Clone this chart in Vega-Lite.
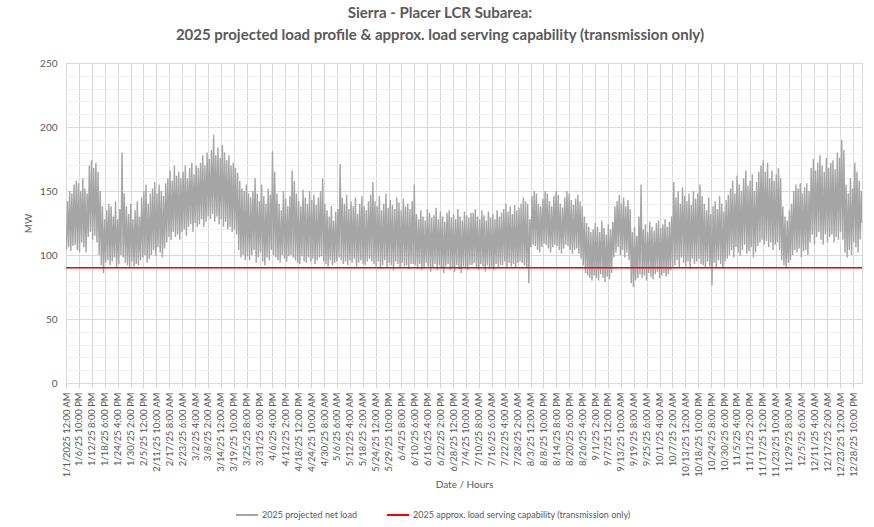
{
"$schema": "https://vega.github.io/schema/vega-lite/v6.json",
"width": 796, "height": 320,
"autosize": "none",
"padding": {"left": 66, "top": 63, "right": 12, "bottom": 144},
"background": "white",
"config": {"view": {"stroke": "#d9d9d9"}, "font": "Lato"},
"title": {"text": ["Sierra - Placer LCR Subarea:", "2025 projected load profile & approx. load serving capability (transmission only)"], "font": "Lato", "fontSize": 15, "fontWeight": "bold", "color": "#595959", "lineHeight": 22, "anchor": "middle", "frame": "group", "dx": -24, "offset": 15},
"resolve": {"axis": {"y": "independent"}},
"layer": [
{"data": {"values": [
{"t":0.2,"v":104},{"t":0.7,"v":142},{"t":1.2,"v":106},{"t":1.7,"v":150},{"t":2.2,"v":103},{"t":2.7,"v":148},{"t":3.2,"v":107},{"t":3.7,"v":155},{"t":4.2,"v":108},{"t":4.7,"v":158},{"t":5.2,"v":104},{"t":5.7,"v":156},{"t":6.2,"v":102},{"t":6.7,"v":150},
{"t":7.2,"v":110},{"t":7.7,"v":160},{"t":8.2,"v":106},{"t":8.7,"v":152},{"t":9.2,"v":102},{"t":9.7,"v":148},
{"t":10.2,"v":114},{"t":10.7,"v":170},{"t":11.2,"v":118},{"t":11.7,"v":174},{"t":12.2,"v":112},{"t":12.7,"v":168},{"t":13.2,"v":115},{"t":13.7,"v":172},{"t":14.2,"v":110},{"t":14.7,"v":165},
{"t":15.2,"v":100},{"t":15.7,"v":150},{"t":16.2,"v":92},{"t":16.7,"v":138},{"t":17.2,"v":86},{"t":17.7,"v":128},
{"t":18.2,"v":94},{"t":18.7,"v":135},{"t":19.2,"v":96},{"t":19.7,"v":140},{"t":20.2,"v":92},{"t":20.7,"v":138},{"t":21.2,"v":95},{"t":21.7,"v":130},{"t":22.2,"v":98},{"t":22.7,"v":142},{"t":23.2,"v":90},{"t":23.7,"v":128},{"t":24.2,"v":93},{"t":24.7,"v":136},
{"t":25.2,"v":100},{"t":25.7,"v":180},
{"t":26.2,"v":98},{"t":26.7,"v":148},{"t":27.2,"v":94},{"t":27.7,"v":138},{"t":28.2,"v":92},{"t":28.7,"v":132},{"t":29.2,"v":90},{"t":29.7,"v":140},{"t":30.2,"v":95},{"t":30.7,"v":128},{"t":31.2,"v":91},{"t":31.7,"v":135},{"t":32.2,"v":93},{"t":32.7,"v":142},{"t":33.2,"v":92},{"t":33.7,"v":130},
{"t":34.2,"v":96},{"t":34.7,"v":145},{"t":35.2,"v":98},{"t":35.7,"v":150},{"t":36.2,"v":100},{"t":36.7,"v":155},{"t":37.2,"v":94},{"t":37.7,"v":140},{"t":38.2,"v":97},{"t":38.7,"v":148},
{"t":39.2,"v":100},{"t":39.7,"v":152},{"t":40.2,"v":104},{"t":40.7,"v":157},{"t":41.2,"v":99},{"t":41.7,"v":148},{"t":42.2,"v":106},{"t":42.7,"v":155},{"t":43.2,"v":102},{"t":43.7,"v":150},{"t":44.2,"v":98},{"t":44.7,"v":146},{"t":45.2,"v":105},{"t":45.7,"v":156},
{"t":46.2,"v":110},{"t":46.7,"v":160},{"t":47.2,"v":114},{"t":47.7,"v":166},{"t":48.2,"v":112},{"t":48.7,"v":158},{"t":49.2,"v":118},{"t":49.7,"v":170},{"t":50.2,"v":114},{"t":50.7,"v":162},{"t":51.2,"v":116},{"t":51.7,"v":165},{"t":52.2,"v":112},{"t":52.7,"v":160},
{"t":53.2,"v":118},{"t":53.7,"v":165},{"t":54.2,"v":120},{"t":54.7,"v":170},{"t":55.2,"v":115},{"t":55.7,"v":160},{"t":56.2,"v":122},{"t":56.7,"v":168},{"t":57.2,"v":124},{"t":57.7,"v":172},{"t":58.2,"v":118},{"t":58.7,"v":163},{"t":59.2,"v":125},{"t":59.7,"v":170},{"t":60.2,"v":122},{"t":60.7,"v":168},
{"t":61.2,"v":124},{"t":61.7,"v":172},{"t":62.2,"v":128},{"t":62.7,"v":178},{"t":63.2,"v":122},{"t":63.7,"v":170},{"t":64.2,"v":126},{"t":64.7,"v":180},{"t":65.2,"v":130},{"t":65.7,"v":175},{"t":66.2,"v":128},{"t":66.7,"v":182},{"t":67.2,"v":132},{"t":67.7,"v":194},
{"t":68.2,"v":126},{"t":68.7,"v":178},{"t":69.2,"v":130},{"t":69.7,"v":184},{"t":70.2,"v":124},{"t":70.7,"v":176},{"t":71.2,"v":128},{"t":71.7,"v":186},{"t":72.2,"v":122},{"t":72.7,"v":180},{"t":73.2,"v":126},{"t":73.7,"v":174},{"t":74.2,"v":120},{"t":74.7,"v":178},{"t":75.2,"v":122},{"t":75.7,"v":170},{"t":76.2,"v":118},{"t":76.7,"v":172},{"t":77.2,"v":120},{"t":77.7,"v":168},{"t":78.2,"v":116},{"t":78.7,"v":164},
{"t":79.2,"v":104},{"t":79.7,"v":158},{"t":80.2,"v":98},{"t":80.7,"v":152},{"t":81.2,"v":100},{"t":81.7,"v":150},{"t":82.2,"v":96},{"t":82.7,"v":155},{"t":83.2,"v":99},{"t":83.7,"v":148},
{"t":84.2,"v":96},{"t":84.7,"v":145},{"t":85.2,"v":100},{"t":85.7,"v":150},{"t":86.2,"v":104},{"t":86.7,"v":160},{"t":87.2,"v":94},{"t":87.7,"v":148},{"t":88.2,"v":98},{"t":88.7,"v":142},{"t":89.2,"v":102},{"t":89.7,"v":155},{"t":90.2,"v":95},{"t":90.7,"v":146},{"t":91.2,"v":92},{"t":91.7,"v":140},{"t":92.2,"v":98},{"t":92.7,"v":152},{"t":93.2,"v":96},{"t":93.7,"v":147},
{"t":94.2,"v":104},{"t":94.7,"v":181},{"t":95.2,"v":100},{"t":95.7,"v":165},
{"t":96.2,"v":98},{"t":96.7,"v":148},{"t":97.2,"v":96},{"t":97.7,"v":140},{"t":98.2,"v":94},{"t":98.7,"v":135},{"t":99.2,"v":100},{"t":99.7,"v":150},{"t":100.2,"v":97},{"t":100.7,"v":144},{"t":101.2,"v":95},{"t":101.7,"v":138},{"t":102.2,"v":99},{"t":102.7,"v":146},
{"t":103.2,"v":100},{"t":103.7,"v":166},{"t":104.2,"v":98},{"t":104.7,"v":158},
{"t":105.2,"v":96},{"t":105.7,"v":148},{"t":106.2,"v":94},{"t":106.7,"v":142},{"t":107.2,"v":93},{"t":107.7,"v":138},{"t":108.2,"v":99},{"t":108.7,"v":151},{"t":109.2,"v":95},{"t":109.7,"v":145},{"t":110.2,"v":94},{"t":110.7,"v":140},{"t":111.2,"v":98},{"t":111.7,"v":150},{"t":112.2,"v":95},{"t":112.7,"v":143},{"t":113.2,"v":97},{"t":113.7,"v":147},{"t":114.2,"v":93},{"t":114.7,"v":139},{"t":115.2,"v":96},{"t":115.7,"v":145},{"t":116.2,"v":98},{"t":116.7,"v":150},
{"t":117.2,"v":99},{"t":117.7,"v":160},
{"t":118.2,"v":95},{"t":118.7,"v":140},{"t":119.2,"v":93},{"t":119.7,"v":135},{"t":120.2,"v":91},{"t":120.7,"v":130},{"t":121.2,"v":96},{"t":121.7,"v":138},{"t":122.2,"v":92},{"t":122.7,"v":127},{"t":123.2,"v":94},{"t":123.7,"v":134},{"t":124.2,"v":95},{"t":124.7,"v":136},
{"t":125.2,"v":98},{"t":125.7,"v":171},
{"t":126.2,"v":96},{"t":126.7,"v":145},{"t":127.2,"v":93},{"t":127.7,"v":140},{"t":128.2,"v":95},{"t":128.7,"v":147},{"t":129.2,"v":92},{"t":129.7,"v":136},{"t":130.2,"v":96},{"t":130.7,"v":142},{"t":131.2,"v":94},{"t":131.7,"v":138},{"t":132.2,"v":97},{"t":132.7,"v":145},{"t":133.2,"v":91},{"t":133.7,"v":132},{"t":134.2,"v":94},{"t":134.7,"v":140},{"t":135.2,"v":96},{"t":135.7,"v":146},{"t":136.2,"v":93},{"t":136.7,"v":138},{"t":137.2,"v":92},{"t":137.7,"v":135},{"t":138.2,"v":95},{"t":138.7,"v":142},{"t":139.2,"v":97},{"t":139.7,"v":147},
{"t":140.2,"v":95},{"t":140.7,"v":157},
{"t":141.2,"v":93},{"t":141.7,"v":142},{"t":142.2,"v":91},{"t":142.7,"v":138},{"t":143.2,"v":95},{"t":143.7,"v":146},{"t":144.2,"v":89},{"t":144.7,"v":135},{"t":145.2,"v":92},{"t":145.7,"v":140},{"t":146.2,"v":96},{"t":146.7,"v":148},{"t":147.2,"v":90},{"t":147.7,"v":137},{"t":148.2,"v":94},{"t":148.7,"v":143},{"t":149.2,"v":92},{"t":149.7,"v":139},{"t":150.2,"v":88},{"t":150.7,"v":136},{"t":151.2,"v":95},{"t":151.7,"v":145},{"t":152.2,"v":93},{"t":152.7,"v":141},{"t":153.2,"v":90},{"t":153.7,"v":135},{"t":154.2,"v":94},{"t":154.7,"v":144},{"t":155.2,"v":91},{"t":155.7,"v":138},{"t":156.2,"v":92},{"t":156.7,"v":140},{"t":157.2,"v":89},{"t":157.7,"v":136},{"t":158.2,"v":93},{"t":158.7,"v":142},
{"t":159.2,"v":93},{"t":159.7,"v":155},
{"t":160.2,"v":92},{"t":160.7,"v":132},{"t":161.2,"v":89},{"t":161.7,"v":128},{"t":162.2,"v":93},{"t":162.7,"v":135},{"t":163.2,"v":88},{"t":163.7,"v":130},{"t":164.2,"v":90},{"t":164.7,"v":127},{"t":165.2,"v":94},{"t":165.7,"v":136},{"t":166.2,"v":91},{"t":166.7,"v":133},{"t":167.2,"v":87},{"t":167.7,"v":129},{"t":168.2,"v":90},{"t":168.7,"v":131},{"t":169.2,"v":93},{"t":169.7,"v":137},{"t":170.2,"v":88},{"t":170.7,"v":128},{"t":171.2,"v":92},{"t":171.7,"v":134},{"t":172.2,"v":89},{"t":172.7,"v":130},{"t":173.2,"v":86},{"t":173.7,"v":126},{"t":174.2,"v":91},{"t":174.7,"v":133},{"t":175.2,"v":93},{"t":175.7,"v":135},{"t":176.2,"v":88},{"t":176.7,"v":129},{"t":177.2,"v":90},{"t":177.7,"v":132},{"t":178.2,"v":87},{"t":178.7,"v":128},{"t":179.2,"v":92},{"t":179.7,"v":136},{"t":180.2,"v":89},{"t":180.7,"v":130},{"t":181.2,"v":86},{"t":181.7,"v":127},{"t":182.2,"v":91},{"t":182.7,"v":134},{"t":183.2,"v":90},{"t":183.7,"v":131},{"t":184.2,"v":88},{"t":184.7,"v":129},{"t":185.2,"v":92},{"t":185.7,"v":133},
{"t":186.2,"v":92},{"t":186.7,"v":133},{"t":187.2,"v":94},{"t":187.7,"v":136},{"t":188.2,"v":90},{"t":188.7,"v":130},{"t":189.2,"v":88},{"t":189.7,"v":128},{"t":190.2,"v":93},{"t":190.7,"v":135},{"t":191.2,"v":91},{"t":191.7,"v":131},{"t":192.2,"v":87},{"t":192.7,"v":127},{"t":193.2,"v":92},{"t":193.7,"v":134},{"t":194.2,"v":89},{"t":194.7,"v":129},{"t":195.2,"v":91},{"t":195.7,"v":132},{"t":196.2,"v":88},{"t":196.7,"v":128},{"t":197.2,"v":93},{"t":197.7,"v":135},{"t":198.2,"v":90},{"t":198.7,"v":130},{"t":199.2,"v":92},{"t":199.7,"v":133},
{"t":200.2,"v":92},{"t":200.7,"v":136},{"t":201.2,"v":95},{"t":201.7,"v":140},{"t":202.2,"v":90},{"t":202.7,"v":134},{"t":203.2,"v":94},{"t":203.7,"v":138},{"t":204.2,"v":91},{"t":204.7,"v":132},{"t":205.2,"v":93},{"t":205.7,"v":139},{"t":206.2,"v":90},{"t":206.7,"v":135},{"t":207.2,"v":94},{"t":207.7,"v":137},{"t":208.2,"v":95},{"t":208.7,"v":140},
{"t":209.2,"v":94},{"t":209.7,"v":145},{"t":210.2,"v":92},{"t":210.7,"v":142},{"t":211.2,"v":90},{"t":211.7,"v":140},
{"t":212.2,"v":78},{"t":212.7,"v":128},
{"t":213.2,"v":106},{"t":213.7,"v":146},{"t":214.2,"v":108},{"t":214.7,"v":150},{"t":215.2,"v":107},{"t":215.7,"v":148},{"t":216.2,"v":104},{"t":216.7,"v":140},{"t":217.2,"v":102},{"t":217.7,"v":138},{"t":218.2,"v":106},{"t":218.7,"v":144},{"t":219.2,"v":109},{"t":219.7,"v":150},{"t":220.2,"v":108},{"t":220.7,"v":148},{"t":221.2,"v":105},{"t":221.7,"v":142},{"t":222.2,"v":102},{"t":222.7,"v":138},{"t":223.2,"v":106},{"t":223.7,"v":146},{"t":224.2,"v":108},{"t":224.7,"v":150},{"t":225.2,"v":107},{"t":225.7,"v":147},{"t":226.2,"v":104},{"t":226.7,"v":140},{"t":227.2,"v":101},{"t":227.7,"v":137},{"t":228.2,"v":105},{"t":228.7,"v":145},{"t":229.2,"v":108},{"t":229.7,"v":150},{"t":230.2,"v":107},{"t":230.7,"v":148},{"t":231.2,"v":104},{"t":231.7,"v":143},{"t":232.2,"v":101},{"t":232.7,"v":139},{"t":233.2,"v":104},{"t":233.7,"v":144},{"t":234.2,"v":105},{"t":234.7,"v":147},{"t":235.2,"v":101},{"t":235.7,"v":142},{"t":236.2,"v":97},{"t":236.7,"v":138},
{"t":237.2,"v":92},{"t":237.7,"v":130},{"t":238.2,"v":86},{"t":238.7,"v":125},{"t":239.2,"v":84},{"t":239.7,"v":122},{"t":240.2,"v":82},{"t":240.7,"v":118},{"t":241.2,"v":80},{"t":241.7,"v":120},{"t":242.2,"v":84},{"t":242.7,"v":125},{"t":243.2,"v":82},{"t":243.7,"v":122},{"t":244.2,"v":80},{"t":244.7,"v":118},{"t":245.2,"v":85},{"t":245.7,"v":127},{"t":246.2,"v":82},{"t":246.7,"v":121},{"t":247.2,"v":79},{"t":247.7,"v":116},{"t":248.2,"v":83},{"t":248.7,"v":124},{"t":249.2,"v":81},{"t":249.7,"v":120},{"t":250.2,"v":86},{"t":250.7,"v":126},
{"t":251.2,"v":98},{"t":251.7,"v":138},{"t":252.2,"v":102},{"t":252.7,"v":142},{"t":253.2,"v":106},{"t":253.7,"v":147},{"t":254.2,"v":100},{"t":254.7,"v":140},{"t":255.2,"v":104},{"t":255.7,"v":145},{"t":256.2,"v":98},{"t":256.7,"v":138},{"t":257.2,"v":102},{"t":257.7,"v":143},{"t":258.2,"v":96},{"t":258.7,"v":136},
{"t":259.2,"v":78},{"t":259.7,"v":118},{"t":260.2,"v":75},{"t":260.7,"v":122},{"t":261.2,"v":80},{"t":261.7,"v":115},
{"t":262.2,"v":82},{"t":262.7,"v":130},{"t":263.2,"v":85},{"t":263.7,"v":155},
{"t":264.2,"v":82},{"t":264.7,"v":120},{"t":265.2,"v":84},{"t":265.7,"v":124},{"t":266.2,"v":80},{"t":266.7,"v":118},{"t":267.2,"v":86},{"t":267.7,"v":126},{"t":268.2,"v":83},{"t":268.7,"v":122},{"t":269.2,"v":81},{"t":269.7,"v":119},{"t":270.2,"v":85},{"t":270.7,"v":125},{"t":271.2,"v":87},{"t":271.7,"v":127},{"t":272.2,"v":82},{"t":272.7,"v":121},{"t":273.2,"v":84},{"t":273.7,"v":124},{"t":274.2,"v":86},{"t":274.7,"v":128},{"t":275.2,"v":83},{"t":275.7,"v":122},{"t":276.2,"v":85},{"t":276.7,"v":126},{"t":277.2,"v":88},{"t":277.7,"v":130},
{"t":278.2,"v":90},{"t":278.7,"v":157},
{"t":279.2,"v":92},{"t":279.7,"v":145},{"t":280.2,"v":96},{"t":280.7,"v":150},{"t":281.2,"v":90},{"t":281.7,"v":140},{"t":282.2,"v":98},{"t":282.7,"v":153},{"t":283.2,"v":94},{"t":283.7,"v":146},{"t":284.2,"v":91},{"t":284.7,"v":142},{"t":285.2,"v":95},{"t":285.7,"v":148},{"t":286.2,"v":89},{"t":286.7,"v":139},{"t":287.2,"v":97},{"t":287.7,"v":150},{"t":288.2,"v":93},{"t":288.7,"v":144},
{"t":289.2,"v":95},{"t":289.7,"v":148},{"t":290.2,"v":97},{"t":290.7,"v":155},{"t":291.2,"v":93},{"t":291.7,"v":146},
{"t":292.2,"v":92},{"t":292.7,"v":140},{"t":293.2,"v":90},{"t":293.7,"v":135},{"t":294.2,"v":95},{"t":294.7,"v":145},{"t":295.2,"v":91},{"t":295.7,"v":132},{"t":296.2,"v":76},{"t":296.7,"v":138},{"t":297.2,"v":94},{"t":297.7,"v":142},{"t":298.2,"v":90},{"t":298.7,"v":136},{"t":299.2,"v":96},{"t":299.7,"v":146},{"t":300.2,"v":93},{"t":300.7,"v":140},{"t":301.2,"v":89},{"t":301.7,"v":134},{"t":302.2,"v":95},{"t":302.7,"v":143},{"t":303.2,"v":97},{"t":303.7,"v":147},
{"t":304.2,"v":100},{"t":304.7,"v":152},{"t":305.2,"v":104},{"t":305.7,"v":158},{"t":306.2,"v":98},{"t":306.7,"v":148},{"t":307.2,"v":106},{"t":307.7,"v":162},{"t":308.2,"v":102},{"t":308.7,"v":155},{"t":309.2,"v":99},{"t":309.7,"v":150},{"t":310.2,"v":104},{"t":310.7,"v":160},{"t":311.2,"v":108},{"t":311.7,"v":166},{"t":312.2,"v":101},{"t":312.7,"v":154},{"t":313.2,"v":103},{"t":313.7,"v":158},{"t":314.2,"v":106},{"t":314.7,"v":163},{"t":315.2,"v":98},{"t":315.7,"v":150},{"t":316.2,"v":102},{"t":316.7,"v":157},{"t":317.2,"v":107},{"t":317.7,"v":165},
{"t":318.2,"v":110},{"t":318.7,"v":170},{"t":319.2,"v":112},{"t":319.7,"v":174},{"t":320.2,"v":108},{"t":320.7,"v":165},{"t":321.2,"v":111},{"t":321.7,"v":172},
{"t":322.2,"v":106},{"t":322.7,"v":160},{"t":323.2,"v":110},{"t":323.7,"v":166},{"t":324.2,"v":104},{"t":324.7,"v":158},{"t":325.2,"v":108},{"t":325.7,"v":163},{"t":326.2,"v":110},{"t":326.7,"v":168},{"t":327.2,"v":104},{"t":327.7,"v":160},
{"t":328.2,"v":96},{"t":328.7,"v":138},{"t":329.2,"v":92},{"t":329.7,"v":130},{"t":330.2,"v":90},{"t":330.7,"v":127},{"t":331.2,"v":94},{"t":331.7,"v":135},{"t":332.2,"v":96},{"t":332.7,"v":140},
{"t":333.2,"v":100},{"t":333.7,"v":150},{"t":334.2,"v":104},{"t":334.7,"v":155},{"t":335.2,"v":102},{"t":335.7,"v":152},{"t":336.2,"v":105},{"t":336.7,"v":156},{"t":337.2,"v":98},{"t":337.7,"v":148},{"t":338.2,"v":103},{"t":338.7,"v":153},{"t":339.2,"v":104},{"t":339.7,"v":156},{"t":340.2,"v":100},{"t":340.7,"v":150},
{"t":341.2,"v":110},{"t":341.7,"v":168},{"t":342.2,"v":116},{"t":342.7,"v":175},{"t":343.2,"v":108},{"t":343.7,"v":166},{"t":344.2,"v":114},{"t":344.7,"v":172},{"t":345.2,"v":118},{"t":345.7,"v":178},{"t":346.2,"v":112},{"t":346.7,"v":170},{"t":347.2,"v":108},{"t":347.7,"v":165},{"t":348.2,"v":116},{"t":348.7,"v":176},{"t":349.2,"v":110},{"t":349.7,"v":168},{"t":350.2,"v":114},{"t":350.7,"v":172},{"t":351.2,"v":116},{"t":351.7,"v":174},{"t":352.2,"v":110},{"t":352.7,"v":167},
{"t":353.2,"v":114},{"t":353.7,"v":180},{"t":354.2,"v":112},{"t":354.7,"v":176},{"t":355.2,"v":118},{"t":355.7,"v":190},{"t":356.2,"v":112},{"t":356.7,"v":182},
{"t":357.2,"v":102},{"t":357.7,"v":155},{"t":358.2,"v":98},{"t":358.7,"v":148},{"t":359.2,"v":104},{"t":359.7,"v":160},{"t":360.2,"v":100},{"t":360.7,"v":152},
{"t":361.2,"v":110},{"t":361.7,"v":172},{"t":362.2,"v":106},{"t":362.7,"v":165},{"t":363.2,"v":102},{"t":363.7,"v":158},{"t":364.2,"v":112},{"t":364.7,"v":150},{"t":364.95,"v":125}
]},
"mark": {"type": "line", "strokeWidth": 1.4, "clip": true},
"encoding": {
"x": {"field": "t", "type": "quantitative", "scale": {"domain": [0, 365], "nice": false, "zero": false},
"axis": {"values": [0,5.9167,11.8333,17.75,23.6667,29.5833,35.5,41.4167,47.3333,53.25,59.1667,65.0833,71,76.9167,82.8333,88.75,94.6667,100.5833,106.5,112.4167,118.3333,124.25,130.1667,136.0833,142,147.9167,153.8333,159.75,165.6667,171.5833,177.5,183.4167,189.3333,195.25,201.1667,207.0833,213,218.9167,224.8333,230.75,236.6667,242.5833,248.5,254.4167,260.3333,266.25,272.1667,278.0833,284,289.9167,295.8333,301.75,307.6667,313.5833,319.5,325.4167,331.3333,337.25,343.1667,349.0833,355,360.9167],
"labelExpr": "datum.value == 0 ? '1/1/2025 12:00 AM' : utcFormat(utc(2025,0,1) + (round(datum.value*24) + (datum.value > 56 ? 24 : 0))*3600000, '%-m/%-d/%y %-I:%M %p')",
"labelAngle": -90, "labelAlign": "right", "labelBaseline": "middle", "labelFontSize": 9.4, "labelColor": "#595959", "labelPadding": 4, "labelOverlap": false, "labelBound": false, "labelFlush": false,
"grid": true, "gridColor": "#d9d9d9", "domainColor": "#d9d9d9", "tickColor": "#d9d9d9", "tickSize": 5,
"title": "Date / Hours", "titleFontSize": 10, "titleFontWeight": "normal", "titleColor": "#595959", "titlePadding": 2}},
"y": {"field": "v", "type": "quantitative", "scale": {"domain": [0, 250], "nice": false},
"axis": {"values": [0,50,100,150,200,250], "labelOverlap": false, "orient": "left",
"grid": true, "gridColor": "#d9d9d9",
"domain": false, "ticks": false, "labelPadding": 9, "labelFontSize": 10, "labelColor": "#595959",
"title": "MW", "titleFontSize": 10, "titleFontWeight": "normal", "titleColor": "#595959", "titlePadding": 6}},
"color": {"datum": "2025 projected net load", "type": "nominal",
"scale": {"domain": ["2025 projected net load", "2025 approx. load serving  capability (transmission only)"], "range": ["#a5a5a5", "#ff0000"]},
"legend": {"orient": "none", "legendX": 169, "legendY": 440, "direction": "horizontal", "title": null, "symbolType": "stroke", "symbolSize": 484, "symbolStrokeWidth": 2, "labelFontSize": 9, "labelColor": "#595959", "labelLimit": 0, "columnPadding": 26, "labelOffset": 3}}
}},
{"data": {"values": [{"v": 90}]},
"mark": {"type": "rule", "strokeWidth": 1.5},
"encoding": {"y": {"field": "v", "type": "quantitative",
"axis": {"values": [10,20,30,40,60,70,80,90,110,120,130,140,160,170,180,190,210,220,230,240], "orient": "right", "grid": true, "gridColor": "#efefef", "labels": false, "ticks": false, "domain": false, "title": null}},
"color": {"datum": "2025 approx. load serving  capability (transmission only)", "type": "nominal"}}}
]
}
